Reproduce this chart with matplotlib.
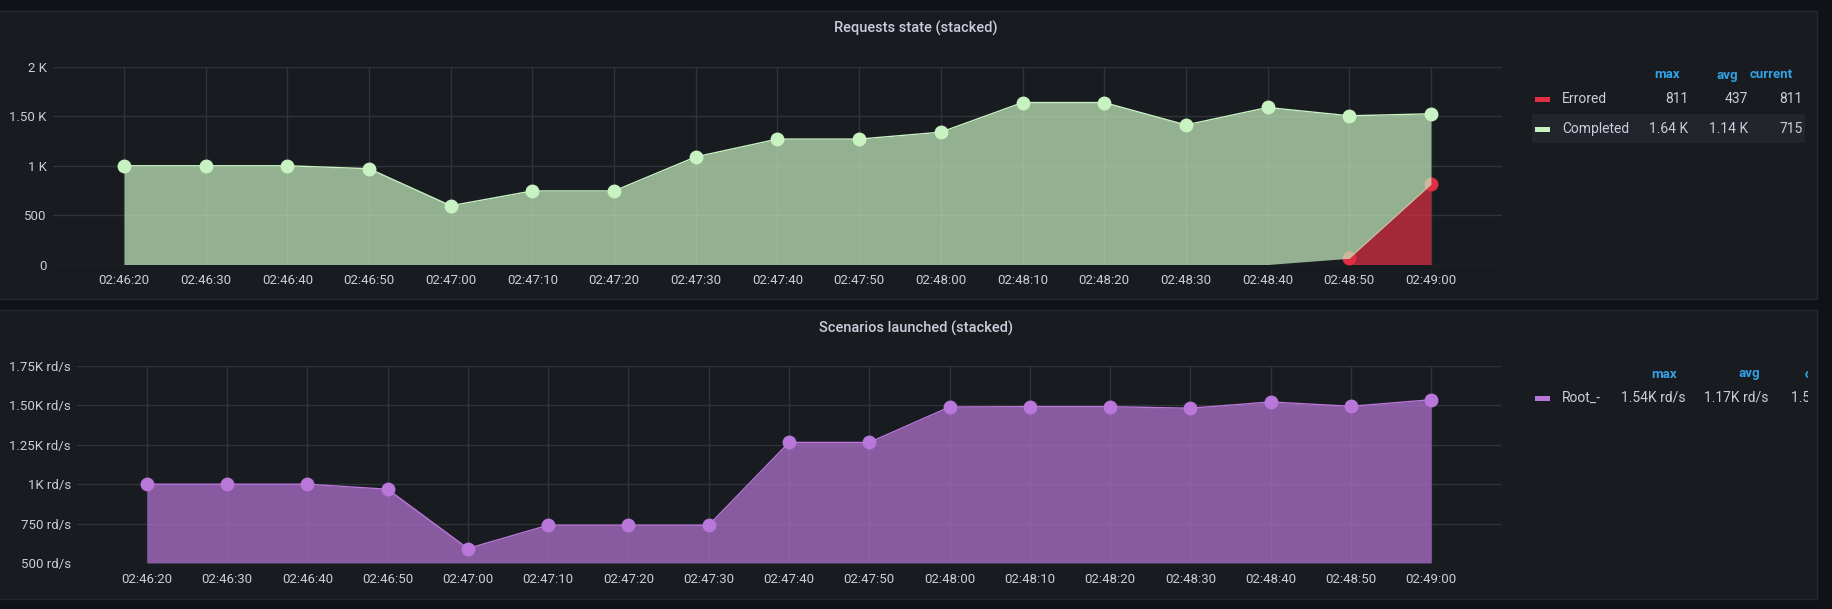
import numpy as np
import matplotlib
matplotlib.use("Agg")
import matplotlib.pyplot as plt
from matplotlib.patches import Rectangle
from matplotlib.transforms import Bbox

plt.rcParams['font.family'] = ['Roboto', 'DejaVu Sans']

# 数据
times = ['02:46:20', '02:46:30', '02:46:40', '02:46:50', '02:47:00', '02:47:10',
         '02:47:20', '02:47:30', '02:47:40', '02:47:50', '02:48:00', '02:48:10',
         '02:48:20', '02:48:30', '02:48:40', '02:48:50', '02:49:00']
errored = [np.nan] * 15 + [63, 811]
completed = [1000, 1000, 1000, 970, 595, 745, 745, 1090, 1270, 1270, 1340, 1640,
             1640, 1413, 1590, 1443, 715]
root = [1000, 1000, 1000, 968, 592, 740, 740, 740, 1265, 1265, 1490, 1492,
        1492, 1482, 1522, 1494, 1536]

top_yticks = [0, 500, 1000, 1500, 2000]
top_ylabels = ['0', '500', '1 K', '1.50 K', '2 K']
bot_yticks = [500, 750, 1000, 1250, 1500, 1750]
bot_ylabels = ['500 rd/s', '750 rd/s', '1K rd/s', '1.25K rd/s', '1.50K rd/s', '1.75K rd/s']

top_legend = [('Errored', '811', '437', '811'), ('Completed', '1.64 K', '1.14 K', '715')]
bot_legend = [('Root_-', '1.54K rd/s', '1.17K rd/s', '1.54K rd/s')]

# 颜色
page_bg = '#111217'
panel_bg = '#181b1f'
grid_c = '#303338'
text_c = '#ccccdc'
blue = '#33a2e5'
red = '#E02F44'
green = '#C8F2C2'
purple = '#B877D9'

W, H = 1832, 609
fig = plt.figure(figsize=(W / 100, H / 100), dpi=100, facecolor=page_bg)


def fx(x):
    return x / W


def fy(y):
    return 1 - y / H


# 面板背景
for y0, y1 in [(11, 299), (310, 599)]:
    fig.patches.append(Rectangle((fx(-2), fy(y1)), fx(1819), (y1 - y0) / H,
                                 transform=fig.transFigure, facecolor=panel_bg,
                                 edgecolor='#24272c', linewidth=1, zorder=-5))

x = np.arange(len(times))


def style_axes(ax, yticks, ylabels, ymin, ymax):
    ax.patch.set_alpha(0)
    ax.set_xlim(-0.87, len(times) - 1 + 0.87)
    ax.set_ylim(ymin, ymax)
    ax.set_xticks(x)
    ax.set_xticklabels(times)
    ax.set_yticks(yticks)
    ax.set_yticklabels(ylabels)
    ax.tick_params(axis='x', length=0, pad=7, labelsize=9.5, colors=text_c)
    ax.tick_params(axis='y', length=0, pad=4.5, labelsize=9.5, colors=text_c)
    for s in ax.spines.values():
        s.set_visible(False)
    ax.grid(True, color=grid_c, linewidth=1)
    ax.set_axisbelow(True)


# 上图：请求状态（堆叠）
ax1 = fig.add_axes([fx(53), fy(264.5), fx(1502 - 53), (264.5 - 67) / H])
style_axes(ax1, top_yticks, top_ylabels, 0, 2000)
err = np.array(errored, dtype=float)
base = np.nan_to_num(err)
total = base + np.array(completed)
ax1.fill_between(x, 0, err, color=red, alpha=0.7, linewidth=0, zorder=2)
ax1.plot(x, err, color=red, linewidth=1, marker='o', markersize=9, zorder=3, clip_on=False)
ax1.fill_between(x, base, total, color=green, alpha=0.7, linewidth=0, zorder=4)
ax1.plot(x, total, color=green, linewidth=1, marker='o', markersize=9, zorder=5, clip_on=False)

# 下图：场景启动（堆叠）
ax2 = fig.add_axes([fx(77), fy(563), fx(1501 - 77), (563 - 366) / H])
style_axes(ax2, bot_yticks, bot_ylabels, 500, 1750)
ax2.fill_between(x, 500, root, color=purple, alpha=0.7, linewidth=0, zorder=2)
ax2.plot(x, root, color=purple, linewidth=1, marker='o', markersize=9, zorder=3, clip_on=False)

# 标题
fig.text(fx(916), fy(28), 'Requests state (stacked)', ha='center', va='center',
         fontsize=10.5, fontweight='medium', color=text_c)
fig.text(fx(916), fy(328), 'Scenarios launched (stacked)', ha='center', va='center',
         fontsize=10.5, fontweight='medium', color=text_c)

# 图例（上）
hdr_x = [1680, 1738, 1793]
val_x = [1688, 1748, 1803]
for name, hx in zip(['max', 'avg', 'current'], hdr_x):
    fig.text(fx(hx), fy(75), name, ha='right', va='center', fontsize=9.5,
             fontweight='bold', color=blue)
fig.patches.append(Rectangle((fx(1532), fy(143)), fx(1805 - 1532), 29 / H,
                             transform=fig.transFigure, facecolor='#22252b', linewidth=0,
                             zorder=-4))
for (name, mx, av, cur), ry, c in zip(top_legend, [99, 129], [red, green]):
    fig.patches.append(Rectangle((fx(1535), fy(ry + 2.5)), fx(15), 5 / H,
                                 transform=fig.transFigure, facecolor=c, linewidth=0))
    fig.text(fx(1562), fy(ry), name, ha='left', va='center', fontsize=10, color=text_c)
    for v, vx in zip([mx, av, cur], val_x):
        fig.text(fx(vx), fy(ry), v, ha='right', va='center', fontsize=10, color=text_c)

# 图例（下），右侧被面板截断
clip = Bbox([[0, 0], [1808, H]])
for name, hx in zip(['max', 'avg', 'current'], [1677, 1760, 1848]):
    t = fig.text(fx(hx), fy(374), name, ha='right', va='center', fontsize=9.5,
                 fontweight='bold', color=blue)
    t.set_clip_box(clip)
    t.set_clip_on(True)
for name, mx, av, cur in bot_legend:
    fig.patches.append(Rectangle((fx(1535), fy(398 + 2.5)), fx(15), 5 / H,
                                 transform=fig.transFigure, facecolor=purple, linewidth=0))
    fig.text(fx(1562), fy(398), name, ha='left', va='center', fontsize=10, color=text_c)
    for v, vx in zip([mx, av, cur], [1686, 1769, 1856]):
        t = fig.text(fx(vx), fy(398), v, ha='right', va='center', fontsize=10, color=text_c)
        t.set_clip_box(clip)
        t.set_clip_on(True)

fig.savefig('out.png', dpi=100, facecolor=page_bg)
